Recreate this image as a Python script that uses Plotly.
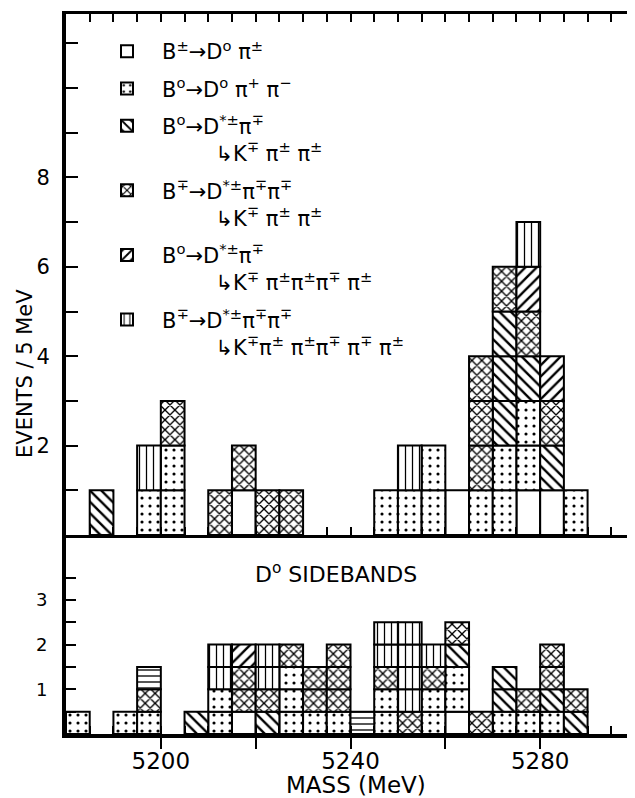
import plotly.graph_objects as go

# ---------------- data ----------------
BIN = 5  # MeV per bin
# decay-mode codes (legend order) and their labels
mode_codes = ["W", "D", "B", "X", "S", "V"]
NB = "\u00a0" * 8
mode_labels = [
    "B<sup>±</sup>→D<sup>o</sup> π<sup>±</sup>",
    "B<sup>o</sup>→D<sup>o</sup> π<sup>+</sup> π<sup>−</sup>",
    "B<sup>o</sup>→D<sup>*±</sup>π<sup>∓</sup><br>" + NB + "↳K<sup>∓</sup> π<sup>±</sup> π<sup>±</sup>",
    "B<sup>∓</sup>→D<sup>*±</sup>π<sup>∓</sup>π<sup>∓</sup><br>" + NB + "↳K<sup>∓</sup> π<sup>±</sup> π<sup>±</sup>",
    "B<sup>o</sup>→D<sup>*±</sup>π<sup>∓</sup><br>" + NB + "↳K<sup>∓</sup> π<sup>±</sup>π<sup>±</sup>π<sup>∓</sup> π<sup>±</sup>",
    "B<sup>∓</sup>→D<sup>*±</sup>π<sup>∓</sup>π<sup>∓</sup><br>" + NB + "↳K<sup>∓</sup>π<sup>±</sup> π<sup>±</sup>π<sup>∓</sup> π<sup>∓</sup> π<sup>±</sup>",
]

# signal region: lower bin edge and stacked entries (bottom -> top), 1 event each
top_bin_low = [5185, 5195, 5200, 5210, 5215, 5220, 5225, 5245, 5250, 5255,
               5260, 5265, 5270, 5275, 5280, 5285]
top_stack = ["B", "DV", "DDX", "X", "WX", "X", "X", "D", "DV", "DD",
             "W", "DXXX", "DDBBBX", "WDDBXSV", "WBXS", "D"]
top_weight = 1.0

# D0 sidebands: lower bin edge and stacked entries, 0.5 event each
bot_bin_low = [5180, 5190, 5195, 5205, 5210, 5215, 5220, 5225, 5230, 5235,
               5240, 5245, 5250, 5255, 5260, 5265, 5270, 5275, 5280, 5285]
bot_stack = ["D", "D", "DXH", "B", "DDVV", "WXXS", "BXVV", "DDDX", "DXX", "DXXX",
             "H", "DDXVV", "XVVVV", "DDXV", "WDDBX", "X", "DBB", "DX", "DBXX", "BX"]
bot_weight = 0.5

top_ytick_vals = list(range(1, 12))
top_ytick_text = ["", "2", "", "4", "", "6", "", "8", "", "", ""]
bot_ytick_vals = [0.5, 1, 1.5, 2, 2.5, 3, 3.5]
bot_ytick_text = ["", "1", "", "2", "", "3", ""]
x_tick_vals = [5200, 5220, 5240, 5260, 5280]
x_tick_text = ["5200", "", "5240", "", "5280"]

# ---------------- styles ----------------
pattern_style = {
    "W": dict(shape=""),
    "D": dict(shape=".", size=8, solidity=0.12),
    "B": dict(shape="\\", size=8, solidity=0.3),
    "X": dict(shape="x", size=7, solidity=0.35),
    "S": dict(shape="/", size=8, solidity=0.3),
    "V": dict(shape="|", size=7, solidity=0.18),
    "H": dict(shape="-", size=6, solidity=0.22),
}
FONT = "DejaVu Sans"


def boxes(lows, stacks, weight, code):
    xs, bases = [], []
    for lo, st in zip(lows, stacks):
        for i, c in enumerate(st):
            if c == code:
                xs.append(lo + BIN / 2)
                bases.append(i * weight)
    return xs, bases


def bar_trace(xs, bases, weight, code, xa, ya, name, showlegend):
    pat = dict(fgcolor="black", bgcolor="white", fillmode="replace")
    pat.update(pattern_style[code])
    return go.Bar(
        x=xs, y=[weight] * len(xs), base=bases, width=BIN,
        xaxis=xa, yaxis=ya, name=name, showlegend=showlegend,
        legendgroup=code if showlegend else None,
        marker=dict(color="white", line=dict(color="black", width=2), pattern=pat),
        hoverinfo="skip",
    )


fig = go.Figure()
for code, label in zip(mode_codes, mode_labels):
    xs, bases = boxes(top_bin_low, top_stack, top_weight, code)
    fig.add_trace(bar_trace(xs, bases, top_weight, code, "x3", "y", label, True))
for code in mode_codes + ["H"]:
    xs, bases = boxes(bot_bin_low, bot_stack, bot_weight, code)
    if xs:
        fig.add_trace(bar_trace(xs, bases, bot_weight, code, "x", "y2", code, False))

# page body has an 8px margin: figure is 8px smaller and placed at (8, 8)
split = 199 / 720.0
xr = [5180, 5300]
common = dict(showgrid=False, zeroline=False, automargin=False, linecolor="black", tickcolor="black")
fig.update_layout(
    template="none",
    width=627, height=790,
    margin=dict(l=58, r=0, t=6, b=64, autoexpand=False),
    paper_bgcolor="white", plot_bgcolor="white",
    barmode="overlay",
    font=dict(family=FONT, color="black"),
    xaxis=dict(domain=[0, 1], range=xr, anchor="y2", side="bottom",
               showline=True, linewidth=4,
               ticks="outside", ticklen=11, tickwidth=2,
               tickvals=x_tick_vals, ticktext=x_tick_text, tickfont=dict(size=23),
               ticklabelstandoff=-8,
               minor=dict(ticks="inside", tick0=5180, dtick=5, ticklen=8, tickwidth=2, tickcolor="black"),
               **common),
    xaxis2=dict(range=xr, anchor="y2", overlaying="x", side="top",
                showline=True, linewidth=3,
                ticks="inside", tick0=5180, dtick=5, ticklen=8, tickwidth=2,
                showticklabels=False, **common),
    xaxis3=dict(domain=[0, 1], range=xr, anchor="y", side="bottom", mirror="ticks",
                showline=True, linewidth=3,
                ticks="inside", tick0=5180, dtick=5, ticklen=8, tickwidth=2,
                showticklabels=False, **common),
    yaxis=dict(domain=[split, 1], range=[0, 521 / 44.7], anchor="x3",
               showline=True, linewidth=4,
               ticks="inside", ticklen=12, tickwidth=2,
               tickvals=top_ytick_vals, ticktext=top_ytick_text, tickfont=dict(size=21),
               ticklabelstandoff=8, **common),
    yaxis2=dict(domain=[0, split], range=[0, 199 / 44.7], anchor="x",
                showline=True, linewidth=4,
                ticks="inside", ticklen=10, tickwidth=2,
                tickvals=bot_ytick_vals, ticktext=bot_ytick_text, tickfont=dict(size=18),
                ticklabelstandoff=11, **common),
    legend=dict(x=(92 - 66) / 569, y=(734 - 31) / 720, xanchor="left", yanchor="top",
                bgcolor="rgba(0,0,0,0)", borderwidth=0, font=dict(size=21, family=FONT),
                itemwidth=60, valign="top", traceorder="grouped", tracegroupgap=7),
    annotations=[
        dict(text="EVENTS / 5 MeV", xref="paper", yref="paper", x=(25 - 66) / 569, y=0.5,
             textangle=-90, showarrow=False, font=dict(size=21), xanchor="center", yanchor="middle"),
        dict(text="MASS (MeV)", xref="paper", yref="paper", x=(356 - 66) / 569, y=(734 - 785) / 720,
             showarrow=False, font=dict(size=23), xanchor="center", yanchor="middle"),
        dict(text="D<sup>o</sup> SIDEBANDS", xref="x", yref="paper", x=5237, y=(734 - 573) / 720,
             showarrow=False, font=dict(size=22), xanchor="center", yanchor="middle"),
    ],
)

fig.write_html("out.html")
